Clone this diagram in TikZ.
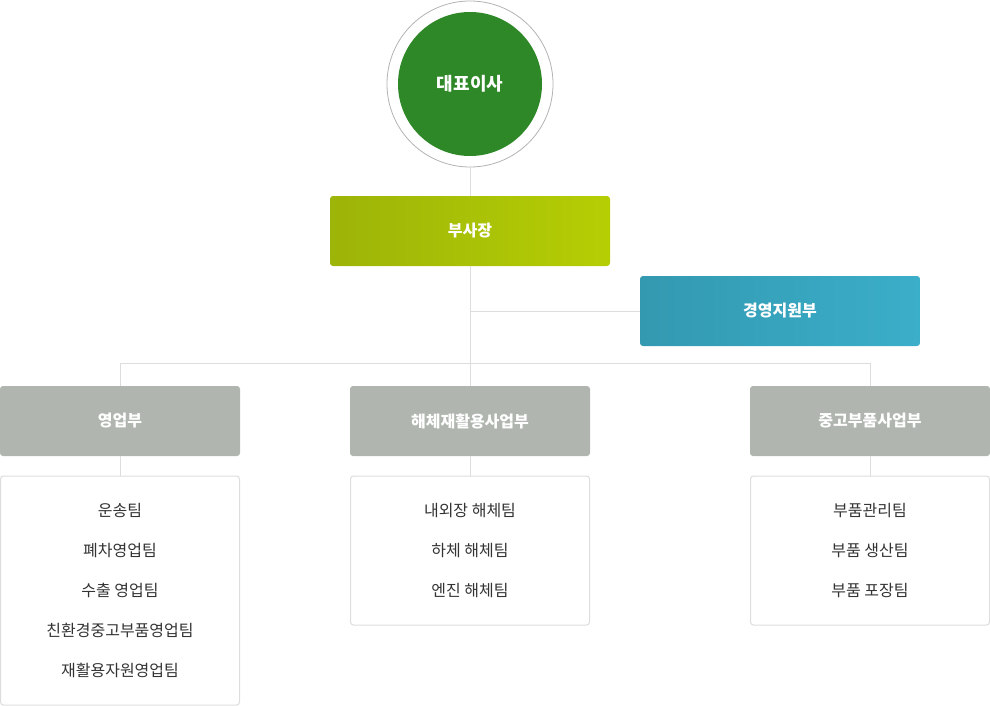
\documentclass[tikz,border=0pt]{standalone}
\usepackage{fontspec}
\setmainfont{Noto Sans CJK KR}
\usepackage{xcolor}
\usetikzlibrary{positioning}

\definecolor{ceogreen}{HTML}{2F8828}
\definecolor{vpleft}{HTML}{9DB408}
\definecolor{vpright}{HTML}{B5CE04}
\definecolor{staffleft}{HTML}{3399B1}
\definecolor{staffright}{HTML}{3BAEC9}
\definecolor{deptgray}{HTML}{B0B6AF}
\definecolor{linegray}{HTML}{DDDDDD}
\definecolor{teamtext}{HTML}{333333}

\begin{document}
\begin{tikzpicture}[x=1pt, y=-1pt,
    link/.style={draw=linegray, line width=1pt},
    headbox/.style={minimum width=280pt, minimum height=70pt, rounded corners=3pt,
      text=white, font=\fontsize{16}{19}\selectfont\bfseries, inner sep=0pt},
    deptbox/.style={minimum width=240pt, minimum height=70pt, rounded corners=3pt,
      fill=deptgray, text=white, font=\fontsize{16}{19}\selectfont\bfseries, inner sep=0pt},
    teambox/.style={minimum width=239pt, draw=linegray, line width=1pt, rounded corners=3pt,
      text=teamtext, align=center, font=\fontsize{16}{40}\selectfont, inner sep=0pt}]
  \useasboundingbox (0,0) rectangle (990,706);

  % CEO circle
  \node[circle, draw=gray!60, line width=0.8pt, minimum size=166pt] (ring) at (470,84) {};
  \node[circle, fill=ceogreen, minimum size=144pt, text=white,
    font=\fontsize{18}{21}\selectfont\bfseries] (ceo) at (470,84) {대표이사};

  % vice president and support office
  \node[headbox, left color=vpleft, right color=vpright] (vp) at (470,231) {부사장};
  \node[headbox, left color=staffleft, right color=staffright] (staff) at (780,311) {경영지원부};

  % departments
  \node[deptbox] (sales) at (120,421) {영업부};
  \node[deptbox] (recycle) at (470,421) {해체재활용사업부};
  \node[deptbox] (parts) at (870,421) {중고부품사업부};

  % teams
  \node[teambox, minimum height=229pt] (salesteam) at (120,590.5)
    {운송팀\\폐차영업팀\\수출 영업팀\\친환경중고부품영업팀\\재활용자원영업팀};
  \node[teambox, minimum height=149pt] (recycleteam) at (470,550.5)
    {내외장 해체팀\\하체 해체팀\\엔진 해체팀};
  \node[teambox, minimum height=149pt] (partsteam) at (870,550.5)
    {부품관리팀\\부품 생산팀\\부품 포장팀};

  % connectors
  \draw[link] (ring.south) -- (vp.north);
  \draw[link] (vp.south) -- (recycle.north);
  \draw[link] (vp.south |- staff.west) -- (staff.west);
  \draw[link] (sales.north) -- ++(0,-22) -| (parts.north);
  \draw[link] (sales.south) -- (salesteam.north);
  \draw[link] (recycle.south) -- (recycleteam.north);
  \draw[link] (parts.south) -- (partsteam.north);

\end{tikzpicture}
\end{document}
